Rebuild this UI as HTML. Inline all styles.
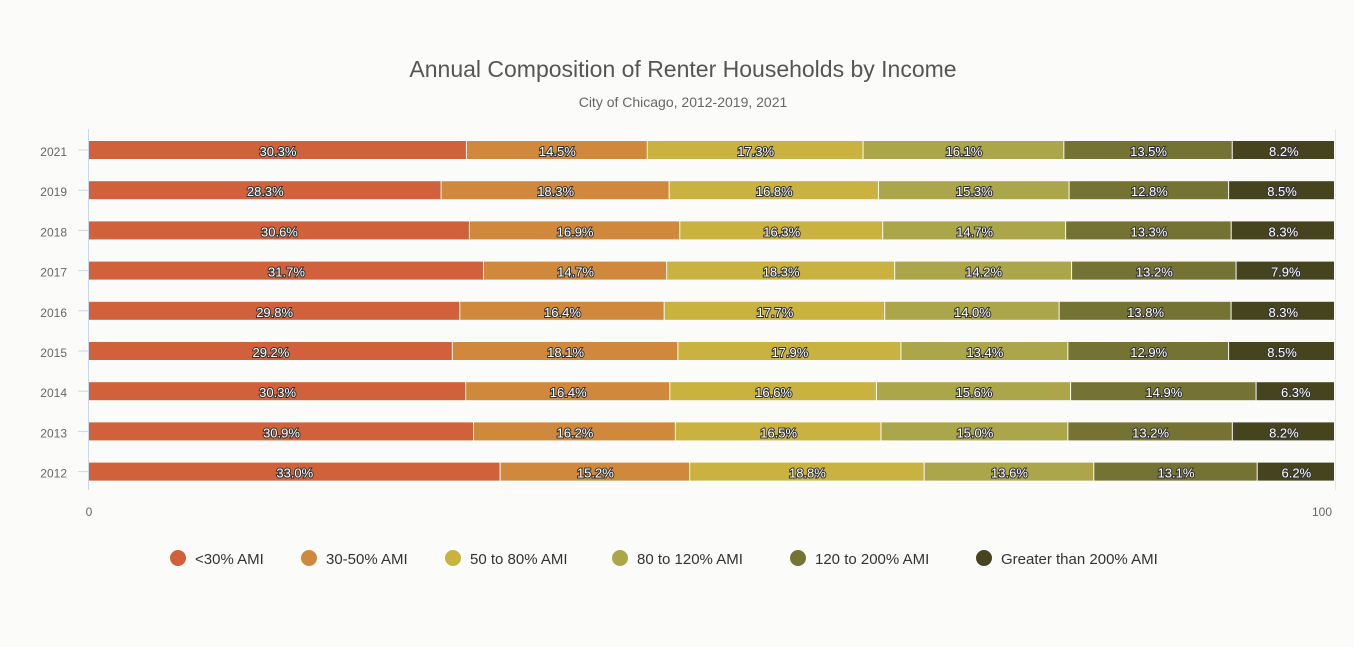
<!DOCTYPE html>
<html><head><meta charset="utf-8"><style>
body{margin:0;background:#fbfbf9;}
svg text{font-family:"Liberation Sans",sans-serif;}
</style></head><body>
<svg id="chart" width="1354" height="642" xmlns="http://www.w3.org/2000/svg">
<rect width="1354" height="642" fill="#fbfbf9"/>
<text x="683" y="77" text-anchor="middle" font-size="23" fill="#555">Annual Composition of Renter Households by Income</text>
<text x="683" y="107" text-anchor="middle" font-size="14" fill="#666">City of Chicago, 2012-2019, 2021</text>
<line x1="88.5" y1="129" x2="88.5" y2="490" stroke="#ccd6eb"/>
<line x1="1335.5" y1="129" x2="1335.5" y2="490" stroke="#e6e6e6"/>
<text x="89" y="516" text-anchor="middle" font-size="12" fill="#666">0</text>
<text x="1322" y="516" text-anchor="middle" font-size="12" fill="#666">100</text>
<g id="bars"></g>
<g id="legend"></g>
</svg>
<script>
const years = ["2021","2019","2018","2017","2016","2015","2014","2013","2012"];
const seriesNames = ["<30% AMI","30-50% AMI","50 to 80% AMI","80 to 120% AMI","120 to 200% AMI","Greater than 200% AMI"];
const s1 = [30.3,28.3,30.6,31.7,29.8,29.2,30.3,30.9,33.0];
const s2 = [14.5,18.3,16.9,14.7,16.4,18.1,16.4,16.2,15.2];
const s3 = [17.3,16.8,16.3,18.3,17.7,17.9,16.6,16.5,18.8];
const s4 = [16.1,15.3,14.7,14.2,14.0,13.4,15.6,15.0,13.6];
const s5 = [13.5,12.8,13.3,13.2,13.8,12.9,14.9,13.2,13.1];
const s6 = [8.2,8.5,8.3,7.9,8.3,8.5,6.3,8.2,6.2];
const series = [s1,s2,s3,s4,s5,s6];
const colors = ["#d0613b","#d0893c","#c9b23f","#aba64a","#747333","#45441f"];
const NS="http://www.w3.org/2000/svg";
const x0=89,x1=1335;
const xScale=v=>x0+(x1-x0)*v/100;
const yScale=i=>141+i*40.2;
const bh=18;
const g=document.getElementById('bars');
years.forEach((yr,i)=>{
  const y=yScale(i);
  const tick=document.createElementNS(NS,'line');
  tick.setAttribute('x1',78);tick.setAttribute('x2',88);
  tick.setAttribute('y1',y+bh/2);tick.setAttribute('y2',y+bh/2);
  tick.setAttribute('stroke','#ccd6eb');
  
  
  g.appendChild(tick);
  const lab=document.createElementNS(NS,'text');
  lab.setAttribute('x',67);lab.setAttribute('y',y+bh/2+6);
  lab.setAttribute('text-anchor','end');lab.setAttribute('font-size','12');lab.setAttribute('fill','#666');
  lab.textContent=yr;
  
  
  g.appendChild(lab);
  let total=0;series.forEach(s=>total+=s[i]);
  let cum=0;
  series.forEach((s,k)=>{
    const a=xScale(cum/total*100), b=xScale((cum+s[i])/total*100);
    cum+=s[i];
    const r=document.createElementNS(NS,'rect');
    r.setAttribute('x',a);r.setAttribute('y',y);
    r.setAttribute('width',Math.max(0,b-a-1));r.setAttribute('height',bh);
    r.setAttribute('fill',colors[k]);
    
    
    g.appendChild(r);
    const t=document.createElementNS(NS,'text');
    t.setAttribute('x',(a+b)/2);t.setAttribute('y',y+15);
    t.setAttribute('text-anchor','middle');t.setAttribute('font-size','13');
    t.setAttribute('fill','#fff');t.setAttribute('stroke','#333');t.setAttribute('stroke-width','2');
    t.setAttribute('paint-order','stroke');
    t.textContent=s[i].toFixed(1)+'%';
    
    
    g.appendChild(t);
  });
});
const lg=document.getElementById('legend');
const lx=[178,309,453,620,798,984];
seriesNames.forEach((n,k)=>{
  const c=document.createElementNS(NS,'circle');
  c.setAttribute('cx',lx[k]);c.setAttribute('cy',558);c.setAttribute('r',8);c.setAttribute('fill',colors[k]);
  
  
  lg.appendChild(c);
  const t=document.createElementNS(NS,'text');
  t.setAttribute('x',lx[k]+17);t.setAttribute('y',564);t.setAttribute('font-size','15');t.setAttribute('fill','#333');
  t.textContent=n;
  
  
  lg.appendChild(t);
});
</script>
</body></html>
